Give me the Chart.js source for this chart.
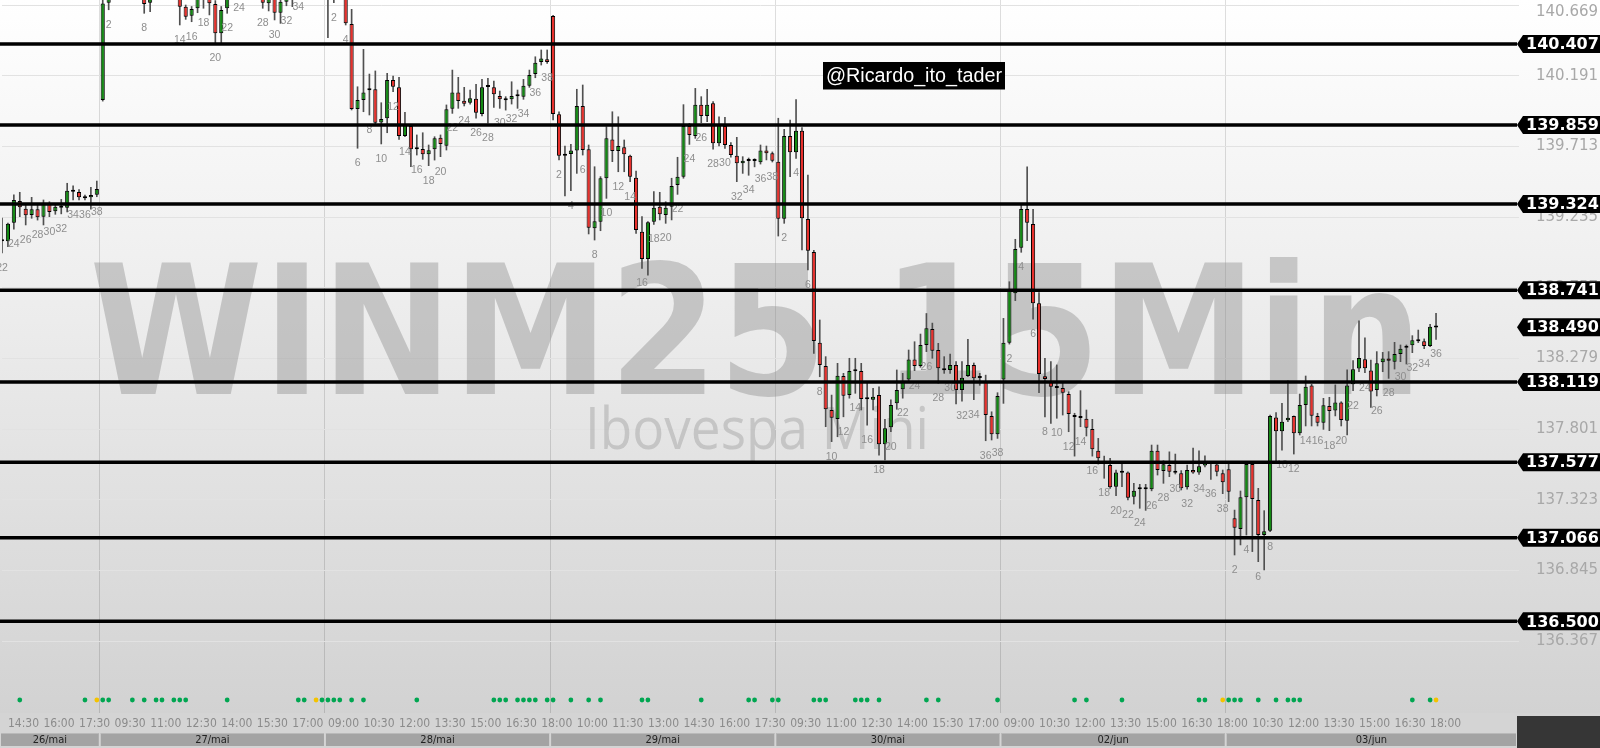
<!DOCTYPE html>
<html>
<head>
<meta charset="utf-8">
<title>WINM25 15Min</title>
<script src="https://cdn.jsdelivr.net/npm/chart.js"></script>
<style>
  html, body { margin: 0; padding: 0; background: #d4d4d4; }
  #chart { display: block; }
</style>
</head>
<body>
<canvas id="chart" width="1600" height="748"></canvas>
<script>
// ==================== DATA ====================
// 15 min candles per session: [open, high, low, close] (thousand points)
const mai26 = [
  [139.085,139.229,138.992,139.071],[139.071,139.195,139.035,139.190],[139.197,139.385,139.153,139.351],
  [139.344,139.403,139.238,139.301],[139.292,139.324,139.182,139.247],[139.249,139.369,139.227,139.288],
  [139.288,139.324,139.215,139.234],[139.238,139.351,139.182,139.324],[139.324,139.339,139.238,139.270],
  [139.275,139.324,139.254,139.306],[139.310,139.355,139.257,139.299],[139.299,139.464,139.270,139.414],
  [139.420,139.446,139.351,139.407],[139.405,139.422,139.351,139.369],[139.366,139.384,139.351,139.362],
  [139.369,139.437,139.288,139.385],[139.387,139.479,139.373,139.425]
];
const mai27 = [
  [140.027,140.760,140.020,140.680],[140.686,140.850,140.638,140.800],[140.860,141.020,140.850,140.980],
  [140.980,141.080,140.900,140.950],[140.950,141.000,140.860,140.900],[140.900,140.990,140.860,140.960],
  [140.960,141.040,140.880,140.920],[140.920,140.950,140.614,140.677],[140.686,140.900,140.625,140.860],
  [140.860,140.990,140.850,140.950],[140.950,141.050,140.880,141.000],[141.000,141.060,140.900,140.940],
  [140.940,140.980,140.860,140.900],[140.900,140.930,140.535,140.659],[140.659,140.670,140.573,140.591],
  [140.598,140.660,140.557,140.643],[140.648,140.820,140.618,140.780],[140.780,140.840,140.648,140.740],
  [140.740,140.780,140.603,140.682],[140.677,140.700,140.411,140.479],[140.479,140.660,140.411,140.636],
  [140.648,140.800,140.614,140.760],[140.760,140.880,140.750,140.840],[140.840,140.920,140.752,140.800],
  [140.800,140.900,140.780,140.880],[140.880,140.960,140.850,140.920],[140.920,140.980,140.850,140.870],
  [140.870,140.900,140.648,140.686],[140.682,140.780,140.630,140.740],[140.740,140.760,140.569,140.618],
  [140.618,140.720,140.546,140.692],[140.692,140.760,140.665,140.730],[140.730,140.800,140.659,140.760],
  [140.760,140.840,140.760,140.800],[140.800,140.900,140.780,140.860],[140.860,140.940,140.840,140.900],
  [140.900,140.960,140.850,140.920],[140.920,140.980,140.860,140.940]
];
const mai28 = [
  [140.940,140.980,140.449,140.800],[140.800,140.900,140.686,140.860],[140.860,140.920,140.780,140.820],
  [140.820,140.860,140.535,140.546],[140.542,140.641,139.960,139.967],[139.967,140.117,139.701,140.027],
  [140.027,140.370,139.948,140.079],[140.093,140.203,139.926,140.097],[140.100,140.224,139.865,139.874],
  [139.876,140.009,139.730,139.899],[139.904,140.208,139.806,140.163],[140.163,140.190,140.084,140.117],
  [140.113,140.181,139.761,139.784],[139.784,139.944,139.779,139.858],[139.851,139.858,139.576,139.694],
  [139.698,139.791,139.655,139.694],[139.696,139.806,139.626,139.660],[139.660,139.723,139.583,139.687],
  [139.694,139.779,139.621,139.768],[139.772,139.791,139.644,139.729],[139.718,139.994,139.689,139.964],
  [139.969,140.230,139.937,140.079],[140.079,140.181,139.971,140.021],[140.023,140.113,139.987,140.002],
  [140.009,140.095,140.000,140.039],[140.036,140.134,139.904,139.941],[139.933,140.167,139.919,140.113],
  [140.115,140.174,139.870,140.119],[140.113,140.156,139.978,140.066],[140.054,140.088,139.971,140.032],
  [140.029,140.050,139.959,140.025],[140.032,140.151,140.000,140.054],[140.056,140.095,139.971,140.052],
  [140.050,140.167,140.032,140.124],[140.124,140.230,140.113,140.197],[140.203,140.320,140.178,140.280],
  [140.284,140.366,140.264,140.309],[140.303,140.366,140.275,140.284]
];
const mai29 = [
  [140.596,140.600,139.892,139.933],[139.931,139.948,139.622,139.651],[139.655,139.716,139.378,139.651],
  [139.662,139.728,139.414,139.685],[139.685,140.100,139.531,139.987],[139.987,140.129,139.655,139.689],
  [139.694,139.723,139.121,139.163],[139.159,139.576,139.080,139.207],[139.204,139.509,139.143,139.498],
  [139.498,139.847,139.362,139.768],[139.761,139.948,139.610,139.683],[139.683,139.914,139.542,139.716],
  [139.707,139.757,139.542,139.660],[139.651,139.655,139.475,139.508],[139.502,139.547,139.125,139.148],
  [139.136,139.238,138.888,138.952],[138.952,139.204,138.843,139.200],[139.204,139.407,139.186,139.299],
  [139.306,139.403,139.216,139.254],[139.249,139.339,139.193,139.299],[139.306,139.498,139.216,139.446],
  [139.452,139.640,139.389,139.508],[139.508,139.996,139.498,139.851],[139.851,139.869,139.727,139.790],
  [139.784,140.106,139.768,139.996],[139.996,140.050,139.874,139.919],[139.919,140.100,139.881,139.996],
  [140.005,140.016,139.694,139.734],[139.734,139.914,139.716,139.858],[139.851,139.910,139.700,139.723],
  [139.723,139.739,139.640,139.655],[139.651,139.775,139.475,139.599],[139.599,139.644,139.531,139.617],
  [139.619,139.635,139.518,139.615],[139.615,139.630,139.575,139.619],[139.606,139.723,139.594,139.685],
  [139.685,139.716,139.622,139.667],[139.667,139.676,139.608,139.617]
];
const mai30 = [
  [139.610,139.904,139.107,139.224],[139.224,139.829,139.193,139.784],[139.784,139.892,139.508,139.674],
  [139.674,140.030,139.633,139.820],[139.820,139.840,139.013,139.227],[139.222,139.520,138.877,139.008],
  [138.999,139.010,138.313,138.397],[138.385,138.539,138.155,138.234],[138.228,138.291,137.817,137.935],
  [137.930,138.031,137.716,137.878],[137.869,138.246,137.749,138.162],[138.160,138.178,137.884,138.027],
  [138.032,138.280,138.010,138.194],[138.192,138.280,138.043,138.196],[138.194,138.246,137.930,138.004],
  [138.006,138.117,137.828,138.002],[137.999,138.076,137.930,138.020],[138.032,138.087,137.625,137.698],
  [137.698,137.867,137.592,137.806],[137.813,137.998,137.783,137.964],[137.975,138.201,137.935,138.065],
  [138.070,138.178,138.010,138.121],[138.137,138.336,138.121,138.272],[138.272,138.392,138.196,138.228],
  [138.228,138.444,138.219,138.370],[138.370,138.583,138.325,138.483],[138.478,138.518,138.280,138.331],
  [138.336,138.381,138.111,138.212],[138.203,138.291,138.178,138.199],[138.201,138.309,138.178,138.235],
  [138.235,138.257,137.971,138.065],[138.065,138.257,137.989,138.149],[138.160,138.408,138.156,138.235],
  [138.235,138.248,138.000,138.145],[138.151,138.178,138.097,138.147],[138.121,138.166,137.722,137.896],
  [137.890,137.918,137.727,137.766],[137.766,138.047,137.738,138.024]
];
const jun02 = [
  [138.137,138.550,137.975,138.385],[138.385,138.798,138.376,138.742],[138.720,139.085,138.670,139.019],
  [139.028,139.317,138.997,139.290],[139.290,139.576,139.075,139.197],[139.188,139.288,138.544,138.652],
  [138.652,138.724,138.047,138.174],[138.158,138.280,137.884,138.140],[138.121,138.257,137.840,138.087],
  [138.083,138.235,137.874,138.079],[138.079,138.121,137.896,138.047],[138.038,138.054,137.783,137.903],
  [137.886,137.908,137.618,137.882],[137.880,138.061,137.817,137.876],[137.871,137.930,137.754,137.810],
  [137.801,137.867,137.618,137.664],[137.654,137.738,137.564,137.603],[137.580,137.618,137.468,137.567],
  [137.558,137.603,137.400,137.407],[137.411,137.524,137.350,137.508],[137.510,137.580,137.411,137.506],
  [137.508,137.512,137.321,137.337],[137.343,137.434,137.294,137.383],[137.393,137.427,137.265,137.403],
  [137.407,137.427,137.251,137.393],[137.393,137.693,137.383,137.654],[137.654,137.693,137.490,137.524],
  [137.517,137.587,137.434,137.563],[137.558,137.647,137.479,137.513],[137.510,137.632,137.497,137.506],
  [137.502,137.520,137.389,137.400],[137.407,137.558,137.395,137.524],[137.524,137.672,137.501,137.508],
  [137.508,137.653,137.495,137.550],[137.555,137.620,137.545,137.576],[137.567,137.580,137.461,137.571],
  [137.562,137.573,137.484,137.513],[137.502,137.524,137.364,137.442]
];
const jun03 = [
  [137.530,137.569,137.310,137.377],[137.197,137.253,136.949,137.134],[137.125,137.382,137.017,137.339],
  [137.339,137.573,137.084,137.565],[137.565,137.573,136.972,137.328],[137.321,137.400,136.904,137.084],
  [137.084,137.249,136.848,137.109],[137.113,137.896,137.106,137.890],[137.880,137.912,137.573,137.786],
  [137.786,137.975,137.659,137.851],[137.860,138.128,137.851,137.878],[137.890,137.890,137.632,137.772],
  [137.772,138.038,137.761,137.964],[137.964,138.160,137.822,138.088],[138.095,138.104,137.822,137.891],
  [137.890,137.908,137.822,137.844],[137.844,138.009,137.799,137.962],[137.957,138.016,137.790,137.923],
  [137.926,138.100,137.890,137.980],[137.980,137.986,137.822,137.862],[137.858,138.201,137.761,138.095],
  [138.104,138.264,138.061,138.205],[138.210,138.534,138.189,138.282],[138.273,138.419,138.182,138.212],
  [138.198,138.268,137.948,138.056],[138.065,138.325,138.025,138.246],[138.253,138.320,138.189,138.279],
  [138.279,138.325,138.144,138.264],[138.257,138.388,138.207,138.309],[138.309,138.370,138.257,138.345],
  [138.352,138.370,138.241,138.356],[138.368,138.433,138.318,138.402],[138.399,138.471,138.386,138.395],
  [138.395,138.411,138.345,138.363],[138.363,138.510,138.358,138.494],[138.488,138.584,138.408,138.490]
];

const sessionDays = ['26/mai', '27/mai', '28/mai', '29/mai', '30/mai', '02/jun', '03/jun'];
const sessionStart = ['14:15', '09:00', '09:00', '09:00', '09:00', '09:00', '09:30'];
const firstCandleNo = [22, 1, 1, 1, 1, 1, 1];
const emptySlots = 14;

const levels = [140.407, 139.859, 139.324, 138.741, 138.119, 137.577, 137.066, 136.500];
const lastPrice = 138.490;
const priceTicks = [140.669, 140.191, 139.713, 139.235, 138.757, 138.279, 137.801, 137.323, 136.845, 136.367];

// signal dots under the candles (candle slot index)
const signalGreen = [3, 14, 17, 18, 22, 24, 26, 27, 29, 30, 31, 38, 50, 51, 54, 55, 56, 57, 59, 61, 70,
  83, 84, 85, 87, 88, 89, 90, 92, 93, 96, 99, 101, 108, 109, 118, 126, 127, 130, 131, 137, 138, 139,
  144, 145, 146, 148, 156, 158, 168, 181, 183, 189, 202, 203, 207, 208, 209, 212, 215, 217, 218, 219, 238, 241];
const signalYellow = [16, 53, 206, 242];

// ==================== BUILD ====================
const sessions = [mai26, mai27, mai28, mai29, mai30, jun02, jun03];
const labels = [];
const candles = [];
const candleNo = [];
const dayStart = [];
const pad = (n) => String(n).padStart(2, '0');

sessions.forEach((day, d) => {
  dayStart.push(labels.length);
  let [h, m] = sessionStart[d].split(':').map(Number);
  day.forEach((c, i) => {
    labels.push(sessionDays[d] + ' ' + pad(h) + ':' + pad(m));
    candles.push(c);
    candleNo.push(firstCandleNo[d] + i);
    m += 15;
    if (m >= 60) { m -= 60; h++; }
  });
});
const lastCandle = candles.length - 1;
for (let i = 0; i < emptySlots; i++) labels.push('vazio ' + i);

const GREEN = '#138a13';
const RED = '#e8302c';
const AXIS_FONT = "'DejaVu Sans', sans-serif";
const NARROW_FONT = "'Liberation Sans Narrow', 'DejaVu Sans Condensed', 'Liberation Sans', sans-serif";
const PANEL_RIGHT = 1517; // where price panel ends and the tags start

// scales must not reserve room for half labels at the edges
function noEdgePadding(s) {
  s.paddingTop = 0;
  s.paddingBottom = 0;
  s.paddingLeft = 0;
  s.paddingRight = 0;
}

// ==================== DECORATION ====================
const decorPlugin = {
  id: 'decor',
  beforeDraw(chart) {
    const { ctx, width, height, chartArea } = chart;
    ctx.save();
    ctx.fillStyle = '#d4d4d4';
    ctx.fillRect(0, 0, width, height);
    const g = ctx.createLinearGradient(0, 0, 0, chartArea.bottom);
    g.addColorStop(0, '#ffffff');
    g.addColorStop(0.45, '#ececec');
    g.addColorStop(1, '#d2d2d2');
    ctx.fillStyle = g;
    ctx.fillRect(0, 0, width, chartArea.bottom);
    ctx.restore();
  },
  beforeDatasetsDraw(chart) {
    const { ctx } = chart;
    ctx.save();
    ctx.textAlign = 'center';
    ctx.textBaseline = 'alphabetic';
    ctx.fillStyle = 'rgba(140,140,140,0.42)';
    ctx.font = "bold 180px 'DejaVu Sans', sans-serif";
    ctx.fillText('WINM25 15Min', 756, 394, 1333);
    ctx.fillStyle = 'rgba(150,150,150,0.40)';
    ctx.font = "58px 'Open Sans', sans-serif";
    ctx.fillText('Ibovespa Mini', 757, 449, 344);
    ctx.restore();
  },
  afterDatasetsDraw(chart) {
    const { ctx } = chart;
    const xs = chart.scales.x;
    const ys = chart.scales.y;
    ctx.save();
    // candle numbers under every even candle
    ctx.font = "10.5px 'Liberation Sans', sans-serif";
    ctx.fillStyle = '#8e8e8e';
    ctx.textAlign = 'center';
    ctx.textBaseline = 'middle';
    candles.forEach((c, i) => {
      if (candleNo[i] % 2) return;
      ctx.fillText(String(candleNo[i]), xs.getPixelForValue(i), ys.getPixelForValue(c[2]) + 15);
    });
    // horizontal levels
    ctx.strokeStyle = '#000';
    ctx.lineWidth = 3.5;
    levels.forEach(v => {
      const y = ys.getPixelForValue(v);
      ctx.beginPath();
      ctx.moveTo(0, y);
      ctx.lineTo(PANEL_RIGHT, y);
      ctx.stroke();
    });
    // author tag
    ctx.fillStyle = '#000';
    ctx.fillRect(823, 62, 182, 27.5);
    ctx.fillStyle = '#fff';
    ctx.font = "20px 'Liberation Sans', sans-serif";
    ctx.textAlign = 'left';
    ctx.fillText('@Ricardo_ito_tader', 826, 76.5, 176);
    ctx.restore();
  },
  afterDraw(chart) {
    const { ctx, width } = chart;
    const xs = chart.scales.x;
    const ys = chart.scales.y;
    ctx.save();
    // top price label sits lower so it is not cut
    ctx.font = '15px ' + AXIS_FONT;
    ctx.fillStyle = '#a8a8a8';
    ctx.textAlign = 'left';
    ctx.textBaseline = 'middle';
    ctx.fillText(priceTicks[0].toFixed(3), PANEL_RIGHT + 19, 12);

    // price tags on the right
    const tag = (v) => {
      const y = ys.getPixelForValue(v);
      const x = PANEL_RIGHT;
      ctx.fillStyle = '#000';
      ctx.beginPath();
      ctx.moveTo(x, y);
      ctx.lineTo(x + 6, y - 9);
      ctx.lineTo(width, y - 9);
      ctx.lineTo(width, y + 9);
      ctx.lineTo(x + 6, y + 9);
      ctx.closePath();
      ctx.fill();
      ctx.fillStyle = '#fff';
      ctx.font = 'bold 16px ' + AXIS_FONT;
      ctx.fillText(v.toFixed(3), x + 9, y + 1);
    };
    levels.forEach(tag);
    tag(lastPrice);

    // date bar
    const edge = (s) => (xs.getPixelForValue(s - 1) + xs.getPixelForValue(s)) / 2;
    ctx.font = '11px ' + NARROW_FONT;
    ctx.textAlign = 'center';
    sessionDays.forEach((day, d) => {
      const x0 = d === 0 ? 0 : edge(dayStart[d]);
      const x1 = d === sessionDays.length - 1 ? PANEL_RIGHT : edge(dayStart[d + 1]);
      ctx.fillStyle = '#a3a3a3';
      ctx.fillRect(x0 + 1, 733, x1 - x0 - 2, 13);
      ctx.fillStyle = '#b9b9b9';
      ctx.fillRect(x0 + 1, 733, x1 - x0 - 2, 1);
      ctx.fillStyle = '#222';
      ctx.fillText(day, (x0 + x1) / 2, 740);
    });
    ctx.fillStyle = '#363636';
    ctx.fillRect(PANEL_RIGHT, 716, width - PANEL_RIGHT, 32);
    ctx.restore();
  }
};

// ==================== CHART ====================
function renderChart() {
  const ctx = document.getElementById('chart');
  const slot = (s) => ({ x: labels[s], y: 0 });

  new Chart(ctx, {
    type: 'bar',
    data: {
      labels,
      datasets: [
        {
          label: 'sombra',
          data: candles.map(c => [c[2], c[1]]),
          backgroundColor: '#505050',
          barThickness: 1,
          grouped: false,
          order: 3
        },
        {
          label: 'corpo',
          data: candles.map(c => [c[0], c[3]]),
          backgroundColor: candles.map(c => c[3] >= c[0] ? GREEN : RED),
          borderColor: '#000',
          borderWidth: 1,
          borderSkipped: false,
          minBarLength: 2,
          barPercentage: 0.7,
          categoryPercentage: 1,
          grouped: false,
          order: 2
        },
        {
          type: 'line',
          label: 'sinal',
          data: signalGreen.map(slot),
          showLine: false,
          pointRadius: 2.4,
          pointBorderWidth: 0,
          backgroundColor: '#00a651',
          yAxisID: 'yd',
          order: 1
        },
        {
          type: 'line',
          label: 'sinal2',
          data: signalYellow.map(slot),
          showLine: false,
          pointRadius: 2.4,
          pointBorderWidth: 0,
          backgroundColor: '#f4c300',
          yAxisID: 'yd',
          order: 1
        }
      ]
    },
    options: {
      responsive: false,
      animation: false,
      events: [],
      layout: { padding: { left: 2, right: 0, top: 0, bottom: 0 }, autoPadding: false },
      plugins: { legend: { display: false }, tooltip: { enabled: false } },
      scales: {
        x: {
          type: 'category',
          offset: false,
          border: { display: false },
          grid: {
            offset: true,
            drawTicks: false,
            color: (c) => (c.index > 0 && dayStart.includes(c.index)) ? 'rgba(0,0,0,0.13)' : 'rgba(0,0,0,0)'
          },
          ticks: {
            autoSkip: false,
            maxRotation: 0,
            minRotation: 0,
            align: 'start',
            padding: 4,
            color: '#8b8b8b',
            font: { family: NARROW_FONT, size: 12 },
            callback: (v, i) => (i % 6 === 1 && i <= lastCandle) ? labels[i].split(' ')[1] : ''
          },
          afterFit: (s) => { s.height = 35; noEdgePadding(s); }
        },
        y: {
          position: 'right',
          min: 135.880,
          max: 140.704,
          border: { display: false },
          grid: { color: '#e2e2e2', drawTicks: false },
          afterBuildTicks: (axis) => { axis.ticks = priceTicks.map(v => ({ value: v })); },
          ticks: {
            padding: 17,
            color: '#a8a8a8',
            font: { family: AXIS_FONT, size: 15 },
            callback: (v) => v === priceTicks[0] ? '' : v.toFixed(3)
          },
          afterFit: (s) => { s.width = 81; noEdgePadding(s); }
        },
        yd: { display: false, min: -0.0186, max: 1 }
      }
    },
    plugins: [decorPlugin]
  });
}

renderChart();
</script>
</body>
</html>
